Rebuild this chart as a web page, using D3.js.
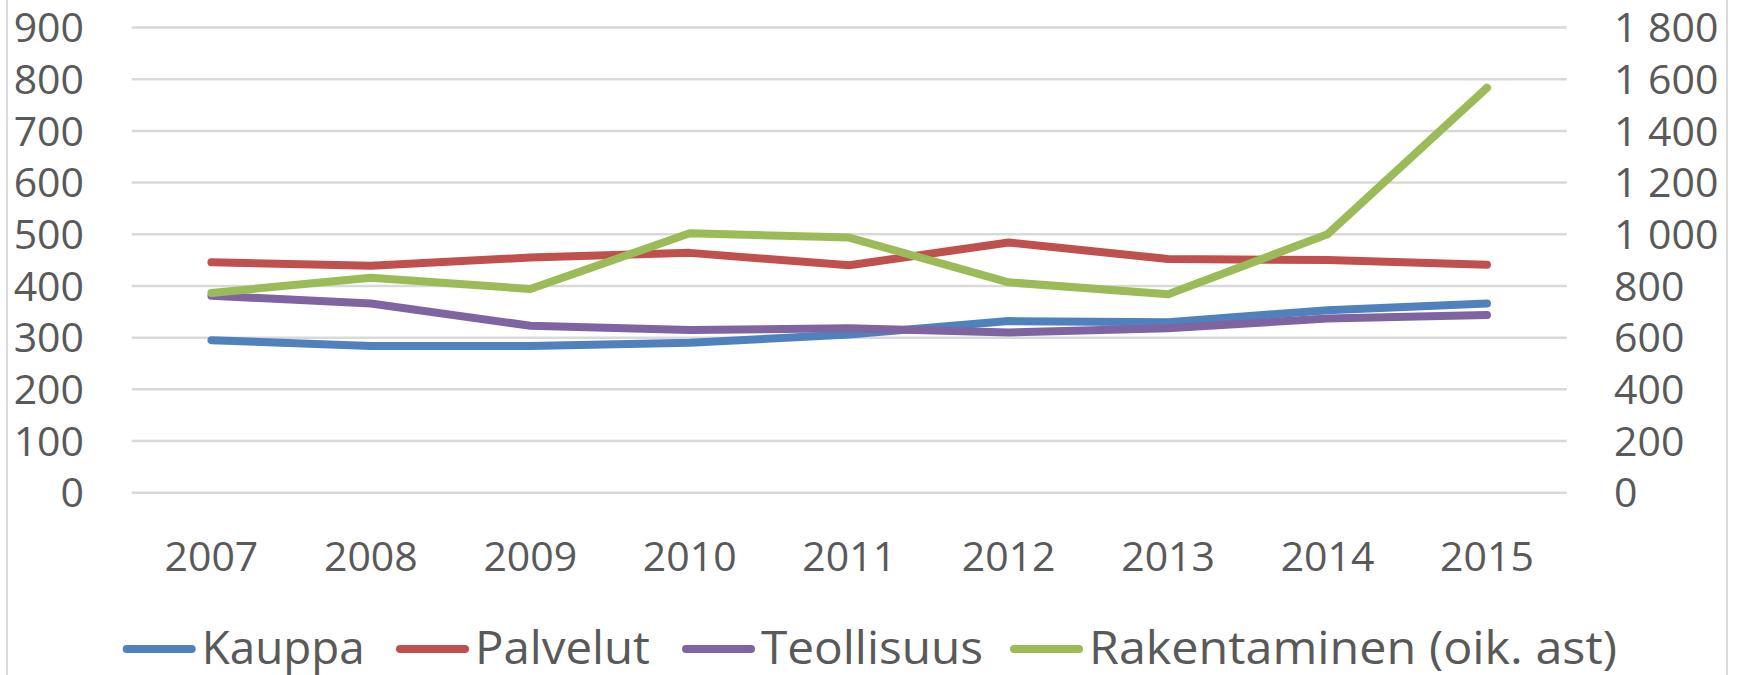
<!DOCTYPE html>
<html>
<head>
<meta charset="utf-8">
<script src="https://d3js.org/d3.v7.min.js"></script>
<style>
  body { margin: 0; background: #fff; }
  text { font-family: "Open Sans", sans-serif; fill: #595959; }
</style>
</head>
<body>
<script>
// data
var years = ["2007", "2008", "2009", "2010", "2011", "2012", "2013", "2014", "2015"];
var kauppa = [295, 284, 284, 290, 306, 332, 330, 353, 366];
var palvelut = [446, 439, 455, 464, 440, 484, 452, 450, 441];
var teollisuus = [381, 366, 323, 315, 318, 310, 318, 337, 344];
var rakentaminen = [773, 832, 788, 1004, 987, 814, 768, 1000, 1567]; // right axis
var seriesNames = ["Kauppa", "Palvelut", "Teollisuus", "Rakentaminen (oik. ast)"];
var leftTicks = [0, 100, 200, 300, 400, 500, 600, 700, 800, 900];
var rightTicks = [0, 200, 400, 600, 800, 1000, 1200, 1400, 1600, 1800];

var colors = ["#4f81bd", "#c0504d", "#8064a2", "#9bbb59"];

var svg = d3.select("body").append("svg")
  .attr("width", 1740)
  .attr("height", 675);

// chart border (only the sides show)
svg.append("rect")
  .attr("x", 7).attr("y", -10)
  .attr("width", 1720).attr("height", 700)
  .style("fill", "none")
  .style("stroke", "#d9d9d9")
  .style("stroke-width", 2);

var x = d3.scalePoint()
  .domain(years)
  .range([131.7, 1566.7])
  .padding(0.5);

var yLeft = d3.scaleLinear().domain([0, 900]).range([492.7, 27.5]);
var yRight = d3.scaleLinear().domain([0, 1800]).range([492.7, 27.5]);

var fi = d3.formatLocale({ decimal: ",", thousands: "\u00a0", grouping: [3], currency: ["", " €"] });
var fmt = fi.format(",d");

// gridlines
svg.selectAll("line.grid")
  .data(leftTicks)
  .enter()
  .append("line")
  .attr("class", "grid")
  .attr("x1", 131.7).attr("x2", 1566.7)
  .attr("y1", function(d){ return yLeft(d); })
  .attr("y2", function(d){ return yLeft(d); })
  .style("stroke", "#d9d9d9")
  .style("stroke-width", 2.5);

var axisFont = 41;

// left axis labels
svg.selectAll("text.yl")
  .data(leftTicks)
  .enter()
  .append("text")
  .attr("class", "yl")
  .attr("x", 84)
  .attr("y", function(d){ return yLeft(d) + axisFont * 0.36; })
  .attr("text-anchor", "end")
  .style("font-size", axisFont + "px")
  .text(function(d){ return fmt(d); });

// right axis labels
svg.selectAll("text.yr")
  .data(rightTicks)
  .enter()
  .append("text")
  .attr("class", "yr")
  .attr("x", 1614)
  .attr("y", function(d){ return yRight(d) + axisFont * 0.36; })
  .style("font-size", axisFont + "px")
  .text(function(d){ return fmt(d); });

// category labels
svg.selectAll("text.xl")
  .data(years)
  .enter()
  .append("text")
  .attr("class", "xl")
  .attr("x", function(d){ return x(d); })
  .attr("y", 570.5)
  .attr("text-anchor", "middle")
  .style("font-size", axisFont + "px")
  .text(function(d){ return d; });

// lines
var series = [
  { vals: kauppa, y: yLeft },
  { vals: palvelut, y: yLeft },
  { vals: teollisuus, y: yLeft },
  { vals: rakentaminen, y: yRight }
];

series.forEach(function(s, i){
  var line = d3.line()
    .x(function(d, j){ return x(years[j]); })
    .y(function(d){ return s.y(d); });
  svg.append("path")
    .datum(s.vals)
    .attr("d", line)
    .style("fill", "none")
    .style("stroke", colors[i])
    .style("stroke-width", 8)
    .style("stroke-linecap", "round")
    .style("stroke-linejoin", "round");
});

var legendX = [122.7, 396, 682, 1010];
var legendW = [163, 175, 222, 528];
var ly = 649;
seriesNames.forEach(function(name, i){
  var lx = legendX[i];
  svg.append("line")
    .attr("x1", lx + 4).attr("x2", lx + 69)
    .attr("y1", ly).attr("y2", ly)
    .style("stroke", colors[i])
    .style("stroke-width", 8)
    .style("stroke-linecap", "round");
  svg.append("text")
    .attr("x", lx + 79)
    .attr("y", 664)
    .attr("textLength", legendW[i])
    .attr("lengthAdjust", "spacingAndGlyphs")
    .style("font-size", "46px")
    .text(name);
});
</script>
</body>
</html>
